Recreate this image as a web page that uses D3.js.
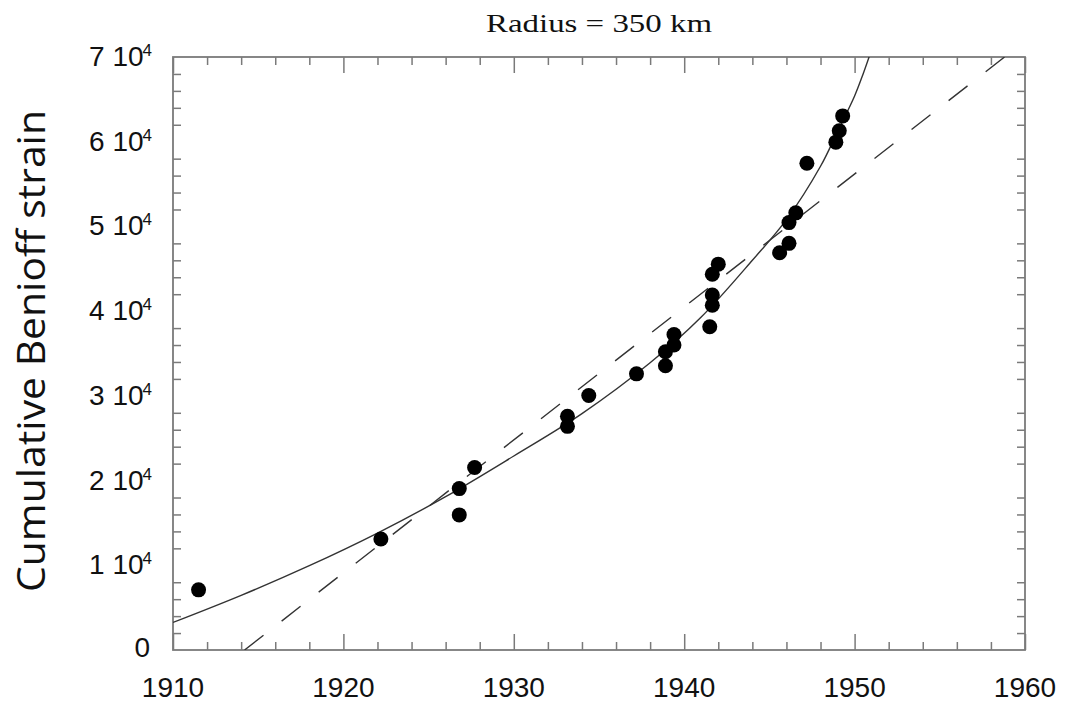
<!DOCTYPE html>
<html>
<head>
<meta charset="utf-8">
<script src="https://cdn.jsdelivr.net/npm/d3@7"></script>
<style>
  html, body { margin: 0; padding: 0; background: #fff; }
  svg { display: block; }
</style>
</head>
<body>
<svg id="chart" width="1076" height="704"></svg>
<script>
// ---------------- data ----------------
const titleText = "Radius = 350 km";
const yAxisTitle = "Cumulative Benioff strain";

const xTickValues = [1910, 1920, 1930, 1940, 1950, 1960];
const xTickLabels = ["1910", "1920", "1930", "1940", "1950", "1960"];
const yTickValues = [0, 10000, 20000, 30000, 40000, 50000, 60000, 70000];
const yTickMantissa = ["0", "1", "2", "3", "4", "5", "6", "7"];

// observed events: year and cumulative Benioff strain
const eventYears = [1911.5, 1922.2, 1926.8, 1926.8, 1927.7, 1933.15, 1933.15, 1934.4,
  1937.2, 1938.9, 1938.9, 1939.4, 1939.4, 1941.5, 1941.65, 1941.65, 1941.65, 1942.0,
  1945.6, 1946.15, 1946.15, 1946.55, 1947.2, 1948.9, 1949.1, 1949.3];
const eventStrain = [7100, 13100, 19050, 15950, 21550, 27600, 26400, 30050,
  32600, 33550, 35200, 36000, 37250, 38150, 40700, 41900, 44350, 45550,
  46900, 48000, 50450, 51600, 57450, 59950, 61300, 63050];

// power-law (accelerating) fit
const curveYears = [1910, 1914, 1918, 1922, 1926, 1930, 1934, 1938, 1941, 1944, 1946, 1948, 1949, 1950, 1950.5, 1950.9];
const curveStrain = [3250, 6450, 9950, 13800, 18100, 22900, 27900, 33900, 39300, 46000, 50800, 57100, 61200, 65400, 68000, 70300];

// linear fit (dashed line) end points
const lineYears = [1914.2, 1958.8];
const lineStrain = [0, 70000];

// ---------------- layout ----------------
const svg = d3.select("#chart");
const plot = { left: 173, top: 57, right: 1025, bottom: 650 };

const x = d3.scaleLinear().domain([1910, 1960]).range([plot.left, plot.right]);
const y = d3.scaleLinear().domain([0, 70000]).range([plot.bottom, plot.top]);

const frameColor = "#7a7a7a";
const ink = "#111";

svg.append("defs").append("clipPath").attr("id", "plotclip")
  .append("rect")
  .attr("x", plot.left).attr("y", plot.top)
  .attr("width", plot.right - plot.left).attr("height", plot.bottom - plot.top);

// minor ticks
const xMinor = d3.range(1912, 1960, 2).filter(v => v % 10 !== 0);
const yMinor = d3.range(2000, 70000, 2000).filter(v => v % 10000 !== 0);

function styleAxis(g) {
  g.select(".domain").remove();
  g.selectAll(".tick line").attr("stroke", frameColor).attr("stroke-width", 1.5);
  g.selectAll(".tick text").remove();
}

// bottom & top major + minor
svg.append("g").attr("transform", `translate(0,${plot.bottom})`)
  .call(d3.axisBottom(x).tickValues(xTickValues).tickSizeInner(-16).tickSizeOuter(0)).call(styleAxis);
svg.append("g").attr("transform", `translate(0,${plot.bottom})`)
  .call(d3.axisBottom(x).tickValues(xMinor).tickSizeInner(-8).tickSizeOuter(0)).call(styleAxis);
svg.append("g").attr("transform", `translate(0,${plot.top})`)
  .call(d3.axisTop(x).tickValues(xTickValues).tickSizeInner(-16).tickSizeOuter(0)).call(styleAxis);
svg.append("g").attr("transform", `translate(0,${plot.top})`)
  .call(d3.axisTop(x).tickValues(xMinor).tickSizeInner(-8).tickSizeOuter(0)).call(styleAxis);

// left & right minor only
svg.append("g").attr("transform", `translate(${plot.left},0)`)
  .call(d3.axisLeft(y).tickValues(yMinor).tickSizeInner(-8).tickSizeOuter(0)).call(styleAxis);
svg.append("g").attr("transform", `translate(${plot.right},0)`)
  .call(d3.axisRight(y).tickValues(yMinor).tickSizeInner(-8).tickSizeOuter(0)).call(styleAxis);

// frame
svg.append("rect")
  .attr("x", plot.left).attr("y", plot.top)
  .attr("width", plot.right - plot.left).attr("height", plot.bottom - plot.top)
  .attr("fill", "none").attr("stroke", frameColor).attr("stroke-width", 1.8);

// x tick labels
svg.append("g").selectAll("text").data(xTickValues).join("text")
  .attr("x", d => x(d)).attr("y", plot.bottom + 47)
  .attr("text-anchor", "middle")
  .attr("font-family", "'Liberation Sans', Arial, sans-serif")
  .attr("font-size", 28).attr("fill", ink)
  .text((d, i) => xTickLabels[i]);

// y tick labels "N 10^4"
const yl = svg.append("g").selectAll("text").data(yTickValues).join("text")
  .attr("x", 152).attr("y", d => y(d) + 9)
  .attr("text-anchor", "end")
  .attr("font-family", "'Liberation Sans', Arial, sans-serif")
  .attr("font-size", 28).attr("fill", ink);
yl.each(function(d, i) {
  const t = d3.select(this);
  if (d === 0) { t.attr("x", 150).attr("y", y(d) + 7).text(yTickMantissa[i]); return; }
  t.append("tspan").text(yTickMantissa[i] + " 10");
  t.append("tspan").attr("font-size", 17).attr("dy", -10).attr("dx", -1).text("4");
});

// title
svg.append("text")
  .attr("x", (plot.left + plot.right) / 2).attr("y", 32)
  .attr("text-anchor", "middle")
  .attr("font-family", "'Liberation Serif', 'Times New Roman', serif")
  .attr("font-size", 26).attr("fill", ink)
  .attr("textLength", 226).attr("lengthAdjust", "spacingAndGlyphs")
  .text(titleText);

// y axis title
svg.append("text")
  .attr("transform", "translate(45,351) rotate(-90)")
  .attr("text-anchor", "middle")
  .attr("font-family", "'Open Sans', 'Noto Sans', sans-serif")
  .attr("font-size", 38).attr("fill", ink)
  .attr("textLength", 482).attr("lengthAdjust", "spacingAndGlyphs")
  .text(yAxisTitle);

// curves
const gPlot = svg.append("g").attr("clip-path", "url(#plotclip)");

const curveLine = d3.line()
  .x((d, i) => x(curveYears[i])).y((d, i) => y(curveStrain[i]))
  .curve(d3.curveCatmullRom.alpha(0.5));
gPlot.append("path").datum(curveYears)
  .attr("d", curveLine)
  .attr("fill", "none").attr("stroke", "#333").attr("stroke-width", 1.4);

const straight = d3.line()
  .x((d, i) => x(lineYears[i])).y((d, i) => y(lineStrain[i]));
gPlot.append("path").datum(lineYears)
  .attr("d", straight)
  .attr("fill", "none").attr("stroke", "#333").attr("stroke-width", 1.4)
  .attr("stroke-dasharray", "24,23");

// points
gPlot.append("g").selectAll("circle").data(eventYears).join("circle")
  .attr("cx", d => x(d)).attr("cy", (d, i) => y(eventStrain[i]))
  .attr("r", 7.5).attr("fill", "#000");
</script>
</body>
</html>
